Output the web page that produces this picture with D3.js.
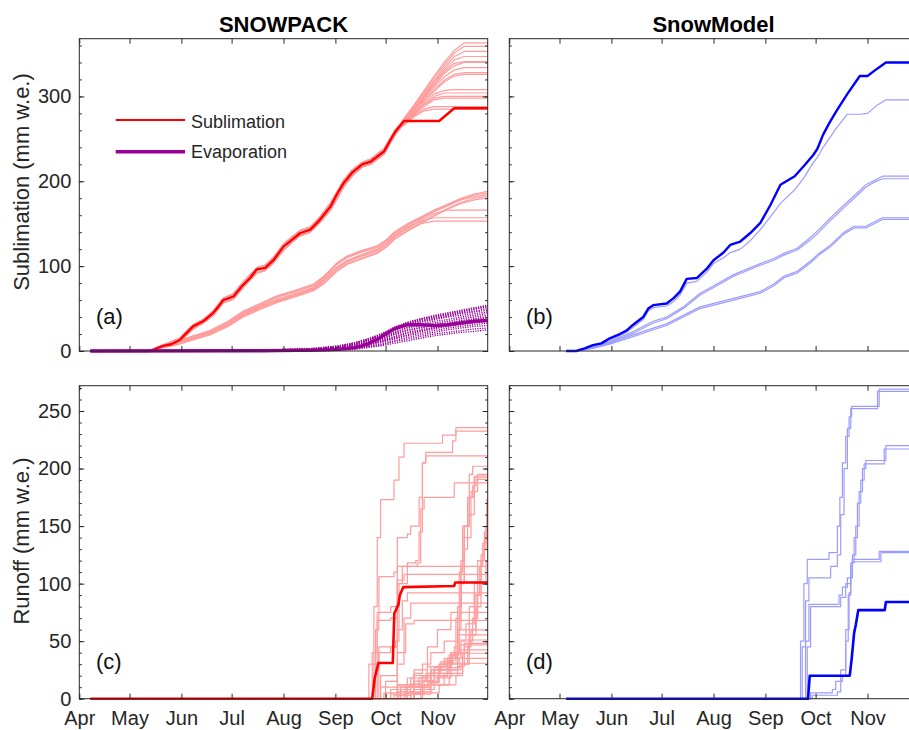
<!DOCTYPE html>
<html lang="en">
<head>
    <meta charset="UTF-8">
    <title>sublimation and runoff</title>
    <script src="https://d3js.org/d3.v7.min.js"></script>
    <style>
        body { margin: 0; background: #fff; }
    </style>
</head>
<body>
<script>
    const width = 909
    const height = 730
    const FONT = "'Liberation Sans', Arial, Helvetica, sans-serif"
    const ink = "#262626"

    // ---- axes ----
    const monthLabels = ['Apr', 'May', 'Jun', 'Jul', 'Aug', 'Sep', 'Oct', 'Nov']
    const subTicks = [0, 100, 200, 300]
    const subMinor = [0, 20, 40, 60, 80, 100, 120, 140, 160, 180, 200, 220, 240, 260, 280, 300, 320, 340, 360]
    const runTicks = [0, 50, 100, 150, 200, 250]
    const runMinor = [0, 10, 20, 30, 40, 50, 60, 70, 80, 90, 100, 110, 120, 130, 140, 150, 160, 170, 180, 190, 200, 210, 220, 230, 240, 250, 260, 270]

    // days counted from 1 April
    const dayEnd = 244
    const spStart = 6.6
    const smStart = 34

    // ---- (a) SNOWPACK sublimation, reference run ----
    const spSubDays = [6.6, 42, 50, 55, 60, 64, 68, 74, 80, 83, 86, 92, 97, 102, 106, 111, 116, 122, 127, 132, 138, 143, 150, 154, 158, 163, 169, 174, 182, 186, 189, 194, 215, 224, 244]
    const spSub = [0, 0, 6, 8, 13, 21, 29, 35, 45, 52, 60, 64, 76, 86, 96, 98, 107, 123, 131, 139, 143, 153, 170, 185, 198, 210, 220, 223, 235, 249, 259, 271, 271, 286, 286]

    // ensemble, upper group: common part then individual tails
    const upperCoreDays = [6.6, 42, 50, 60, 68, 74, 80, 86, 92, 97, 106, 111, 116, 122, 127, 132, 138, 143, 150, 158, 163, 169, 174, 182, 186, 189]
    const upperCoreHi = [0, 0, 7, 15, 31, 37, 47, 62, 67, 79, 98, 101, 110, 126, 134, 142, 146, 156, 174, 201, 213, 222, 226, 238, 251, 261]
    const upperCoreLo = [0, 0, 5, 11, 26, 33, 42, 57, 61, 73, 92, 95, 104, 119, 128, 136, 140, 150, 166, 194, 206, 217, 220, 232, 246, 256]
    const upperTailDays = [194, 200, 206, 212, 218, 224, 230, 244]
    const upperTails = [
        [274, 290, 307, 324, 340, 354, 363, 363],
        [273, 289, 305, 322, 337, 351, 359, 359],
        [272, 287, 303, 319, 334, 347, 353, 353],
        [272, 286, 301, 317, 331, 343, 347, 347],
        [271, 285, 300, 315, 329, 339, 341, 341],
        [271, 285, 299, 313, 327, 336, 340, 340],
        [270, 284, 298, 311, 323, 331, 334, 334],
        [270, 283, 296, 308, 319, 326, 328, 328],
        [269, 282, 295, 306, 317, 324, 326, 326],
        [269, 281, 293, 303, 307, 308, 308, 308],
        [268, 280, 291, 300, 304, 304, 304, 304],
        [268, 279, 290, 298, 300, 300, 300, 300],
        [267, 278, 288, 296, 298, 298, 298, 298],
        [267, 277, 285, 288, 288, 288, 288, 288],
        [266, 276, 283, 285, 285, 285, 285, 285]
    ]

    // ensemble, lower group
    const lowerDays = [42, 48, 58, 68, 78, 88, 98, 108, 118, 128, 140, 146, 154, 160, 168, 178, 184, 188, 196, 204, 212, 220, 228, 236, 244]
    const lowerMembers = [
        [0, 5, 11, 18, 24, 34, 47, 56, 65, 71, 79, 88, 104, 112, 118, 124, 132, 140, 150, 158, 166, 173, 180, 185, 188],
        [0, 4, 10, 17, 23, 33, 46, 55, 64, 70, 78, 87, 103, 111, 117, 123, 131, 139, 149, 157, 165, 172, 179, 184, 186],
        [0, 4, 10, 16, 22, 32, 45, 54, 63, 69, 77, 86, 102, 110, 116, 122, 130, 138, 148, 156, 164, 171, 178, 182, 184],
        [0, 3, 8, 14, 20, 29, 41, 50, 58, 64, 72, 80, 95, 103, 109, 116, 124, 132, 142, 151, 160, 168, 175, 180, 182],
        [0, 3, 7, 13, 19, 28, 40, 49, 57, 63, 71, 79, 94, 102, 108, 115, 123, 131, 141, 150, 159, 167, 174, 178, 180],
        [0, 4, 9, 16, 22, 31, 44, 53, 61, 67, 75, 84, 99, 107, 113, 120, 128, 136, 146, 154, 162, 166, 166, 166, 166],
        [0, 4, 9, 15, 21, 30, 43, 52, 60, 66, 74, 83, 98, 106, 112, 119, 127, 135, 145, 153, 157, 157, 157, 157, 157],
        [0, 3, 8, 14, 20, 29, 42, 51, 59, 65, 73, 82, 97, 105, 111, 118, 126, 134, 144, 150, 153, 153, 153, 153, 153]
    ]

    // evaporation
    const evapDays = [6.6, 110, 140, 155, 165, 172, 180, 188, 196, 204, 212, 220, 228, 236, 244]
    const evapMain = [0, 0.3, 1, 2, 4, 8, 16, 26, 31, 31, 30, 31, 33, 35, 36]
    const evapMembers = [
        [0, 1, 3, 6, 10, 14, 20, 28, 34, 38, 42, 45, 48, 51, 54],
        [0, 1, 3, 6, 10, 14, 19, 27, 33, 38, 41, 44, 47, 50, 53],
        [0, 1, 3, 5, 9, 13, 19, 26, 33, 37, 40, 43, 46, 49, 52],
        [0, 1, 2, 5, 9, 13, 18, 25, 32, 36, 39, 42, 45, 47, 50],
        [0, 1, 2, 5, 8, 12, 18, 25, 31, 35, 38, 41, 44, 46, 48],
        [0, 1, 2, 4, 8, 12, 17, 24, 30, 34, 37, 40, 42, 44, 46],
        [0, 0, 2, 4, 7, 11, 16, 22, 28, 32, 35, 37, 40, 42, 44],
        [0, 0, 2, 4, 7, 10, 15, 21, 27, 30, 33, 35, 38, 40, 42],
        [0, 0, 2, 3, 6, 9, 14, 20, 25, 28, 31, 33, 36, 38, 40],
        [0, 0, 1, 3, 6, 9, 13, 19, 24, 27, 30, 32, 35, 37, 39],
        [0, 0, 1, 3, 5, 8, 12, 17, 22, 25, 28, 31, 34, 36, 37],
        [0, 0, 1, 2, 5, 7, 11, 16, 21, 24, 27, 30, 32, 34, 36],
        [0, 0, 1, 2, 5, 7, 11, 15, 19, 23, 26, 29, 31, 33, 35],
        [0, 0, 1, 2, 4, 6, 10, 14, 18, 21, 24, 27, 29, 31, 33],
        [0, 0, 1, 2, 3, 5, 8, 12, 16, 19, 22, 25, 27, 29, 30],
        [0, 0, 0, 1, 3, 5, 7, 11, 14, 17, 20, 22, 24, 26, 27],
        [0, 0, 0, 1, 2, 4, 6, 9, 12, 15, 18, 20, 22, 23, 25]
    ]

    // ---- (b) SnowModel sublimation ----
    const smSubDays = [34, 40, 45, 50, 55, 60, 66, 70, 74, 80, 83, 86, 94, 98, 102, 106, 112, 118, 122, 128, 132, 138, 144, 150, 156, 162, 170.5, 176, 181.6, 184, 187.5, 191, 195.5, 202, 209.4, 214, 220, 225, 244]
    const smSub = [0, 0, 3, 7, 9, 15, 20, 24, 31, 40, 50, 54, 56, 62, 70, 85, 86, 97, 107, 116, 125, 129, 139, 151, 172, 196, 206, 218, 231, 238, 255, 268, 283, 303, 324, 324, 333, 340, 340]
    const smSubNear = [0, 0, 3, 6, 8, 13, 18, 22, 28, 37, 47, 51, 53, 58, 66, 80, 82, 93, 103, 110, 116, 120, 130, 143, 158, 174, 190, 204, 222, 228, 240, 250, 263, 279, 279, 280, 290, 296, 296]
    const smLowDays = [34, 40, 50, 60, 74, 86, 94, 104, 114, 124, 134, 150, 158, 164, 172, 180, 185, 192, 200, 206, 213, 218, 223, 244]
    const smLowMembers = [
        [0, 0, 5, 11, 23, 35, 40, 52, 68, 79, 90, 103, 109, 115, 121, 134, 143, 157, 172, 183, 196, 201, 206, 206],
        [0, 0, 4, 10, 21, 33, 38, 50, 66, 77, 88, 101, 107, 113, 119, 131, 140, 154, 169, 180, 193, 199, 203, 203],
        [0, 0, 4, 9, 19, 27, 32, 42, 52, 57, 62, 70, 79, 88, 94, 106, 115, 125, 140, 147, 147, 152, 157, 157],
        [0, 0, 3, 8, 17, 25, 30, 40, 50, 55, 60, 68, 77, 86, 92, 104, 113, 123, 138, 145, 145, 150, 155, 155]
    ]

    // ---- (c) SNOWPACK runoff: [day, value] steps ----
    const spRunDays = [6.6, 175, 176.5, 178.7, 187.3, 188.2, 190.7, 191.5, 193.6, 224, 224.6, 244]
    const spRun = [0, 0, 18, 31, 31, 74, 82, 90, 97, 98, 101, 101]
    const spRunMembers = [
        [[171, 0], [173, 30], [176, 80], [178, 140], [180, 173], [188, 190], [191, 210], [194, 222], [217, 229], [225, 235.5]],
        [[172, 0], [175, 40], [178, 75], [186, 80], [190, 100], [196, 118], [201, 120], [203, 145], [205, 205], [207, 214], [223, 224], [225, 232.6]],
        [[173, 0], [176, 30], [178, 68], [186, 70], [190, 140], [196, 143], [198, 150], [203, 175], [205, 205], [207, 211]],
        [[174, 0], [177, 60], [179, 106], [188, 110], [190, 115], [202, 118], [204, 165], [206, 175], [224, 187.6]],
        [[175, 0], [178, 25], [179, 45], [189, 50], [191, 100], [193, 115]],
        [[176, 0], [179, 40], [186, 45], [190, 103], [194, 108]],
        [[176, 0], [180, 20], [190, 60], [193, 85], [196, 92]],
        [[177, 0], [180, 10], [190, 30], [194, 70], [198, 83]],
        [[178, 0], [183, 15], [190, 40], [195, 65], [200, 68]],
        [[178, 0], [182, 5], [190, 10], [200, 15], [210, 25], [220, 35], [224, 45], [226, 80], [228, 120], [230, 150], [232, 175], [236, 193.4]],
        [[179, 0], [186, 8], [195, 12], [205, 20], [215, 30], [223, 38], [226, 80], [228, 115], [230, 150], [233, 175], [235, 185], [237, 190.5]],
        [[180, 0], [188, 3], [198, 18], [208, 28], [218, 33], [225, 40], [227, 70], [228, 100], [230, 130], [232, 160], [236, 192]],
        [[181, 0], [190, 6], [200, 10], [210, 22], [221, 30], [226, 60], [228, 100], [230, 140], [234, 180], [238, 195]],
        [[182, 0], [190, 12], [200, 20], [210, 28], [222, 35], [225, 70], [227, 110], [229, 150], [233, 195], [235, 202]],
        [[183, 0], [195, 5], [205, 15], [215, 25], [228, 30], [232, 45], [234, 60], [237, 90], [240, 120], [242, 145], [243.5, 167]],
        [[184, 0], [196, 10], [208, 20], [220, 35], [230, 45], [233, 65], [236, 90], [239, 115], [241, 130], [243, 150]],
        [[185, 0], [194, 4], [206, 12], [218, 22], [229, 30], [233, 50], [235, 70], [238, 100], [240, 125], [242, 140], [243.5, 173]],
        [[186, 0], [200, 8], [212, 18], [222, 40], [228, 50], [231, 65], [233, 80], [236, 100], [238, 120], [241, 135], [243, 150]],
        [[189, 0], [205, 5], [215, 12], [225, 20], [229, 40], [233, 55], [237, 80], [240, 100], [243, 120]],
        [[183, 0], [192, 10], [200, 25], [208, 45], [214, 60], [222, 75]],
        [[180, 0], [186, 4], [195, 10], [203, 18], [210, 25], [216, 32], [222, 40], [226, 55.5]],
        [[182, 0], [192, 8], [198, 13], [205, 20], [212, 27], [218, 35], [226, 51]],
        [[183, 0], [191, 6], [200, 15], [207, 22], [215, 30], [221, 38], [227, 46.8]],
        [[185, 0], [198, 5], [204, 12], [210, 22], [216, 28], [222, 35], [228, 42.4]],
        [[186, 0], [200, 10], [206, 16], [212, 25], [219, 31], [226, 39.5]],
        [[187, 0], [198, 6], [210, 12], [221, 20], [226, 28], [230, 48]],
        [[187, 0], [204, 8], [209, 14], [214, 20], [220, 27], [227, 35]],
        [[188, 0], [200, 4], [210, 14], [215, 19], [220, 25], [226, 30.8]],
        [[180, 0], [190, 12], [196, 18], [200, 22], [205, 30], [210, 40], [218, 50], [226, 59.8]]
    ]

    // ---- (d) SnowModel runoff ----
    const smRunDays = [34, 178.5, 179.5, 203.4, 204.5, 206, 207, 208.5, 224.3, 225, 244]
    const smRun = [0, 0, 20, 20, 34, 57, 64, 77, 77, 84, 84]
    const smRunMembers = [
        [[172, 0], [174, 50], [176, 100], [178, 121], [191, 127], [196, 150], [197.5, 175], [199, 205], [201, 228], [203, 245], [204.5, 254], [221, 269]],
        [[173, 0], [175, 45], [177, 85], [179, 105], [192, 115], [196, 125], [198, 160], [200, 200], [202, 235], [204, 252], [220, 267]],
        [[174, 0], [177, 50], [179, 82], [197, 90], [199, 97], [202, 105], [205, 125], [207, 150], [209, 180], [211, 200], [213, 207], [225, 220]],
        [[175, 0], [178, 45], [180, 80], [198, 88], [201, 100], [204, 118], [206, 140], [208, 170], [210, 190], [212, 204], [224, 217]],
        [[176, 0], [180, 5], [193, 8], [195, 15], [199, 20], [201, 60], [203, 92], [204, 110], [205, 121], [221, 128]],
        [[177, 0], [181, 3], [196, 6], [198, 25], [201, 50], [202.5, 90], [204, 115], [205, 119], [222, 127]]
    ]

    const red = '#ff0000', lightRed = '#ff9c9c', purple = '#990099', blue = '#0000ff', lightBlue = '#9c9cff'

    const t0 = Date.UTC(2019, 3, 1)
    const toDate = d => new Date(t0 + d * 864e5)
    const monthDates = monthLabels.map((m, i) => new Date(Date.UTC(2019, 3 + i, 1)))

    const svg = d3.select("body")
        .append("svg")
        .attr("width", width)
        .attr("height", height)
        .style("font-family", FONT)

    const xLeft = d3.scaleUtc().domain([toDate(0), toDate(dayEnd)]).range([79.3, 487.7])
    const xRight = d3.scaleUtc().domain([toDate(0), toDate(dayEnd)]).range([509.3, 917.7])
    const ySub = d3.scaleLinear().domain([0, 368]).range([351, 38.7])
    const yRun = d3.scaleLinear().domain([0, 272]).range([698.7, 385.7])

    const zip = (days, vals) => days.map((d, i) => [d, vals[i]])

    function draw(pts, x, y, color, w, curve, dash) {
        const line = d3.line()
            .x(d => x(toDate(d[0])))
            .y(d => y(d[1]))
            .curve(curve || d3.curveLinear)
        svg.append("path")
            .attr("d", line(pts))
            .attr("fill", "none")
            .attr("stroke", color)
            .attr("stroke-width", w)
            .attr("stroke-linejoin", "round")
            .attr("stroke-dasharray", dash || null)
    }

    // step series: start flat at 0, hold last value to the end
    const stepped = (start, m) => [[start, 0], ...m, [dayEnd, m[m.length - 1][1]]]

    // (a)
    lowerMembers.forEach(m => draw([[spStart, 0], ...zip(lowerDays, m)], xLeft, ySub, lightRed, 1.2))
    upperTails.forEach((t, i) => {
        const core = zip(upperCoreDays, i % 2 ? upperCoreLo : upperCoreHi)
        draw(core.concat(zip(upperTailDays, t)), xLeft, ySub, lightRed, 1.2)
    })
    draw(zip(spSubDays, spSub), xLeft, ySub, red, 2.4)
    evapMembers.forEach(m => draw(zip(evapDays, m), xLeft, ySub, purple, 1.3, null, "1.2,1.2"))
    draw(zip(evapDays, evapMain), xLeft, ySub, purple, 3.4)

    // (b)
    smLowMembers.forEach(m => draw(zip(smLowDays, m), xRight, ySub, lightBlue, 1.2))
    draw(zip(smSubDays, smSubNear), xRight, ySub, lightBlue, 1.2)
    draw(zip(smSubDays, smSub), xRight, ySub, blue, 2.4)

    // (c)
    spRunMembers.forEach(m => draw(stepped(spStart, m), xLeft, yRun, lightRed, 1.2, d3.curveStepAfter))
    draw(zip(spRunDays, spRun), xLeft, yRun, red, 2.6)

    // (d)
    smRunMembers.forEach(m => draw(stepped(smStart, m), xRight, yRun, lightBlue, 1.2, d3.curveStepAfter))
    draw(zip(smRunDays, smRun), xRight, yRun, blue, 2.6)

    // axes and frames
    function panelAxes(x, y, yMajor, yMinor, showY, showX) {
        const [x0, x1] = x.range()
        const [y1, y0] = y.range()
        const style = s => s.attr("font-family", FONT).attr("font-size", 20).attr("color", ink)
            .call(s => s.select(".domain").remove())
        const g = svg.append("g")
        g.append("g").attr("transform", "translate(" + x0 + ",0)")
            .call(d3.axisLeft(y).tickValues(yMinor).tickSize(-2.5).tickFormat("")).call(style)
        g.append("g").attr("transform", "translate(" + x0 + ",0)")
            .call(d3.axisLeft(y).tickValues(yMajor).tickSize(-5).tickPadding(8).tickFormat(showY ? d3.format("d") : "")).call(style)
        g.append("g").attr("transform", "translate(" + x1 + ",0)")
            .call(d3.axisRight(y).tickValues(yMinor).tickSize(-2.5).tickFormat("")).call(style)
        g.append("g").attr("transform", "translate(" + x1 + ",0)")
            .call(d3.axisRight(y).tickValues(yMajor).tickSize(-5).tickFormat("")).call(style)
        g.append("g").attr("transform", "translate(0," + y1 + ")")
            .call(d3.axisBottom(x).tickValues(monthDates).tickSize(-5).tickPadding(12)
                .tickFormat(showX ? (d, i) => monthLabels[i] : "")).call(style)
        g.append("g").attr("transform", "translate(0," + y0 + ")")
            .call(d3.axisTop(x).tickValues(monthDates).tickSize(-5).tickFormat("")).call(style)
        g.append("rect")
            .attr("x", x0).attr("y", y0)
            .attr("width", x1 - x0).attr("height", y1 - y0)
            .attr("fill", "none").attr("stroke", ink).attr("stroke-width", 1)
    }
    panelAxes(xLeft, ySub, subTicks, subMinor, true, false)
    panelAxes(xRight, ySub, subTicks, subMinor, false, false)
    panelAxes(xLeft, yRun, runTicks, runMinor, true, true)
    panelAxes(xRight, yRun, runTicks, runMinor, false, true)

    // titles, labels
    svg.append("text").text("SNOWPACK").attr("x", 283.5).attr("y", 32)
        .attr("text-anchor", "middle").attr("font-size", 22).attr("font-weight", "bold")
    svg.append("text").text("SnowModel").attr("x", 713.5).attr("y", 32)
        .attr("text-anchor", "middle").attr("font-size", 22).attr("font-weight", "bold")
    svg.append("text").text("Sublimation (mm w.e.)")
        .attr("transform", "translate(29,182) rotate(-90)")
        .attr("text-anchor", "middle").attr("font-size", 22).attr("fill", ink)
    svg.append("text").text("Runoff (mm w.e.)")
        .attr("transform", "translate(29,541) rotate(-90)")
        .attr("text-anchor", "middle").attr("font-size", 22).attr("fill", ink)

    const tags = [['(a)', 96, 323.5], ['(b)', 526, 323.5], ['(c)', 96, 669], ['(d)', 526, 669]]
    tags.forEach(t => svg.append("text").text(t[0]).attr("x", t[1]).attr("y", t[2])
        .attr("font-size", 22).attr("fill", "#111"))

    // legend
    svg.append("line").attr("x1", 115.7).attr("x2", 185).attr("y1", 120).attr("y2", 120)
        .attr("stroke", red).attr("stroke-width", 2)
    svg.append("text").text("Sublimation").attr("x", 191).attr("y", 127.5)
        .attr("font-size", 18).attr("fill", ink)
    svg.append("line").attr("x1", 115.7).attr("x2", 185).attr("y1", 151.7).attr("y2", 151.7)
        .attr("stroke", purple).attr("stroke-width", 3.4)
    svg.append("text").text("Evaporation").attr("x", 191).attr("y", 158)
        .attr("font-size", 18).attr("fill", ink)
</script>
</body>
</html>
